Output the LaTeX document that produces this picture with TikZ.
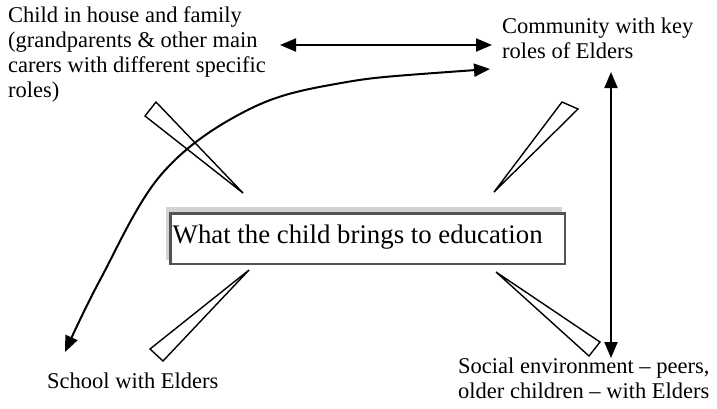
\documentclass[tikz,border=0pt]{standalone}
\usepackage{fontspec}
\setmainfont{Liberation Serif}
\usetikzlibrary{arrows.meta}
\begin{document}
\begin{tikzpicture}[x=1bp,y=-1bp,
  label/.style={inner sep=0pt, align=left, anchor=base west,
    font=\fontsize{22.5bp}{25bp}\selectfont},
  wedge/.style={draw=black, fill=white, line width=1.4bp},
  link/.style={line width=2bp,
    {Triangle[length=16bp,width=13bp]}-{Triangle[length=16bp,width=13bp]}},
]
\useasboundingbox (0,0) rectangle (717,408);

% labels (base anchor sits on the last line)
\node[label] (family) at (8,97.5) {Child in house and family\\(grandparents \& other main\\carers with different specific\\roles)};
\node[label] (community) at (502,58.5) {Community with key\\roles of Elders};
\node[label] (school) at (47,388) {School with Elders};
\node[label] (social) at (458,398) {Social environment -- peers,\\older children -- with Elders};

% central box with bevelled frame
\fill[gray!35] (166,207) rectangle (562,260);
\draw[draw=gray!65!black, line width=2.5bp, fill=white] (170.25,213.25) rectangle (564.75,263.75);
\node[anchor=base west, inner sep=0pt, font=\fontsize{26.8bp}{30bp}\selectfont] (core) at (172.5,243.3) {What the child brings to education};

% wedges pointing at the box
\draw[wedge] (145,116) -- (156,102) -- (243,193) -- cycle;
\draw[wedge] (562,102) -- (578,109) -- (494,192) -- cycle;
\draw[wedge] (249,270) -- (150,349) -- (163,361) -- cycle;
\draw[wedge] (496,272) -- (600,342) -- (589,356) -- cycle;

% arrow end points
\coordinate (hA) at (280,45);
\coordinate (hB) at (492,45);
\coordinate (vA) at (611,72);
\coordinate (vB) at (611,358);
\coordinate (cA) at (490,69);
\coordinate (c1) at (330,85);
\coordinate (c2) at (240,114);
\coordinate (c3) at (160,176);
\coordinate (c4) at (100,280);
\coordinate (cB) at (65,352);

% connecting arrows
\draw[link] (hA) -- (hB);
\draw[link] (vA) -- (vB);
\draw[link] plot[smooth, tension=0.6] coordinates {(cA) (c1) (c2) (c3) (c4) (cB)};
\end{tikzpicture}
\end{document}
